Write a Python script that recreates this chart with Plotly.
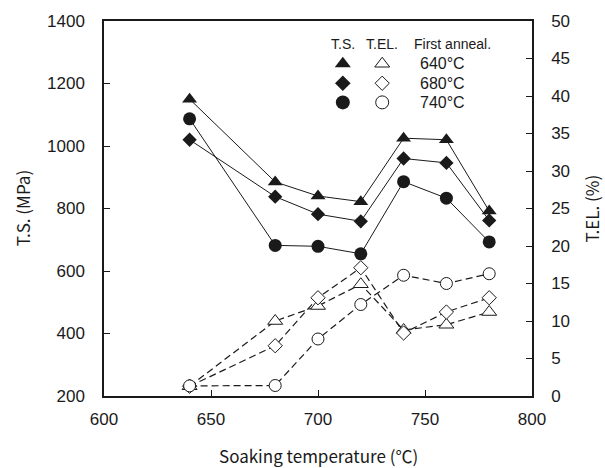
import plotly.graph_objects as go

temps = [640, 680, 700, 720, 740, 760, 780]
ts_640 = [1150, 885, 840, 822, 1025, 1020, 792]
ts_680 = [1020, 838, 782, 759, 960, 946, 762]
ts_740 = [1087, 682, 679, 655, 886, 833, 693]
el_640 = [1.3, 10.0, 12.0, 14.9, 8.8, 9.5, 11.2]
el_680 = [1.3, 6.7, 13.1, 17.1, 8.4, 11.2, 13.1]
el_740 = [1.35, 1.4, 7.6, 12.2, 16.1, 15.0, 16.3]
x_ticks = [600, 650, 700, 750, 800]
ts_ticks = [200, 400, 600, 800, 1000, 1200, 1400]
el_ticks = [0, 5, 10, 15, 20, 25, 30, 35, 40, 45, 50]
anneal_labels = ["640°C", "680°C", "740°C"]
symbols = ["triangle-up", "diamond", "circle"]

INK = "#1a1a1a"
fig = go.Figure()

ts_series = [(ts_640, 13), (ts_680, 11), (ts_740, 13)]
for (vals, sz), sym in zip(ts_series, symbols):
    fig.add_trace(go.Scatter(x=temps, y=vals, mode="lines+markers",
                             line=dict(color=INK, width=1),
                             marker=dict(symbol=sym, size=sz, color=INK),
                             showlegend=False, yaxis="y"))

el_series = [(el_640, 13), (el_680, 11), (el_740, 12)]
for (vals, sz), sym in zip(el_series, symbols):
    fig.add_trace(go.Scatter(x=temps, y=vals, mode="lines+markers",
                             line=dict(color=INK, width=1.2, dash="7px,4px"),
                             marker=dict(symbol=sym, size=sz, color="white",
                                         line=dict(color=INK, width=1)),
                             showlegend=False, yaxis="y2"))

# table-style legend keys (layout positions on a hidden 0..1 axis)
col_x = [0.558, 0.650, 0.815]
row_y = [0.94, 0.886, 0.834, 0.783]
key_sizes = [14, 12, 14]
for i, sym in enumerate(symbols):
    fig.add_trace(go.Scatter(x=[col_x[0]], y=[row_y[i + 1]], mode="markers",
                             marker=dict(symbol=sym, size=key_sizes[i], color=INK),
                             xaxis="x3", yaxis="y3", showlegend=False,
                             hoverinfo="skip"))
    fig.add_trace(go.Scatter(x=[col_x[1]], y=[row_y[i + 1]], mode="markers",
                             marker=dict(symbol=sym, size=key_sizes[i] - 1, color="white",
                                         line=dict(color=INK, width=1)),
                             xaxis="x3", yaxis="y3", showlegend=False,
                             hoverinfo="skip"))

tick_font = dict(family="Liberation Sans, Arial, sans-serif", size=17, color=INK)
fig.update_layout(
    width=605, height=468,
    margin=dict(l=104, r=73, t=17, b=72),
    paper_bgcolor="white", plot_bgcolor="white",
    xaxis=dict(range=[600, 800], tickvals=x_ticks, ticks="inside", ticklen=6,
               tickcolor=INK, showline=True, linecolor=INK, linewidth=1.5,
               mirror=True, showgrid=False, zeroline=False, tickfont=tick_font,
               ticklabelstandoff=7),
    yaxis=dict(range=[200, 1400], tickvals=ts_ticks, ticks="inside", ticklen=6,
               tickcolor=INK, showline=True, linecolor=INK, linewidth=1.5,
               showgrid=False, zeroline=False, tickfont=tick_font,
               ticklabelstandoff=14),
    yaxis2=dict(range=[0, 50], tickvals=el_ticks, ticks="inside", ticklen=6,
                tickcolor=INK, showline=True, linecolor=INK, linewidth=1.5,
                overlaying="y", side="right", showgrid=False, zeroline=False,
                tickfont=tick_font, ticklabelstandoff=14),
    xaxis3=dict(range=[0, 1], visible=False, overlaying="x", fixedrange=True),
    yaxis3=dict(range=[0, 1], visible=False, overlaying="y", fixedrange=True),
)

title_font = dict(family="Noto Sans CJK JP, sans-serif", size=17, color=INK)
fig.add_annotation(text="Soaking temperature (℃)", xref="paper", yref="paper",
                   x=0.5, y=-0.16, xanchor="center", yanchor="middle",
                   showarrow=False, font=title_font)
fig.add_annotation(text="T.S. (MPa)", xref="paper", yref="paper",
                   x=-0.19, y=0.5, xanchor="center", yanchor="middle",
                   textangle=-90, showarrow=False, font=title_font)
fig.add_annotation(text="T.EL. (%)", xref="paper", yref="paper",
                   x=1.138, y=0.5, xanchor="center", yanchor="middle",
                   textangle=-90, showarrow=False, font=title_font)

leg_font = dict(family="Liberation Sans, Arial, sans-serif", size=14, color=INK)
headers = ["T.S.", "T.EL.", "First anneal."]
for cx, h in zip(col_x, headers):
    fig.add_annotation(text=h, xref="paper", yref="paper", x=cx, y=row_y[0],
                       xanchor="center", yanchor="middle",
                       showarrow=False, font=leg_font)
for i, lab in enumerate(anneal_labels):
    fig.add_annotation(text=lab, xref="paper", yref="paper", x=0.792,
                       y=row_y[i + 1], xanchor="center", yanchor="middle",
                       showarrow=False,
                       font=dict(family="Liberation Sans, Arial, sans-serif", size=16, color=INK))

fig.write_html("out.html")
